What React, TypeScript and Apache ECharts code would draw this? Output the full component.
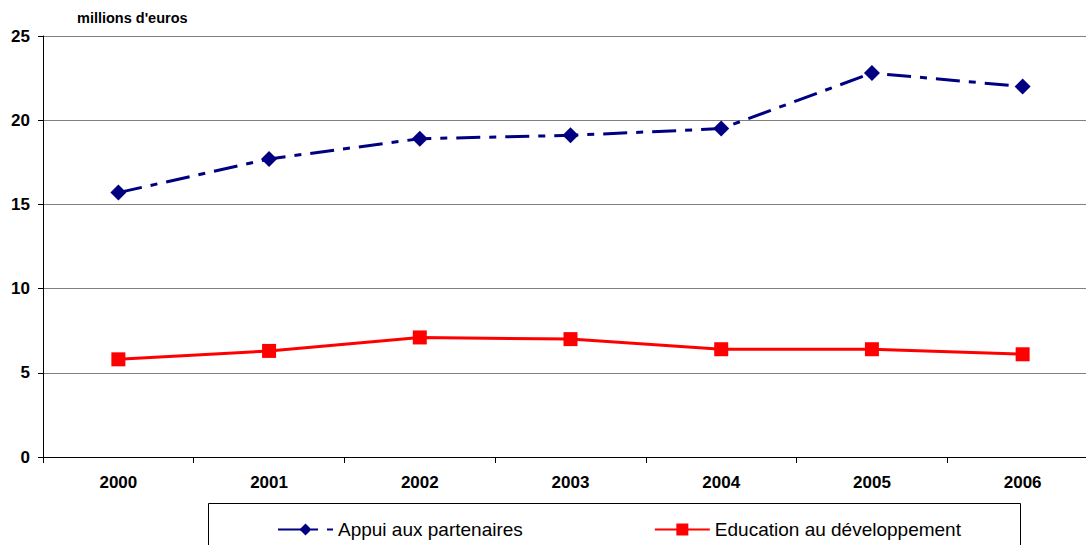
import React, { useEffect, useRef } from "react";
import * as echarts from "echarts";

const years = ["2000", "2001", "2002", "2003", "2004", "2005", "2006"];
const appui = [15.7, 17.7, 18.9, 19.1, 19.5, 22.8, 22.0];
const education = [5.8, 6.3, 7.1, 7.0, 6.4, 6.4, 6.1];
const seriesNames = ["Appui aux partenaires", "Education au développement"];
const unitLabel = "millions d'euros";

const FONT = "'Liberation Sans', Arial, sans-serif";

export default function App() {
  const ref = useRef<HTMLDivElement>(null);
  useEffect(() => {
    if (!ref.current) return;
    const chart = echarts.init(ref.current, undefined, { renderer: "svg" });
    chart.setOption({
      animation: false,
      backgroundColor: "#ffffff",
      textStyle: { fontFamily: FONT },
      grid: { left: 43, top: 36, right: 2, height: 421, containLabel: false },
      xAxis: {
        type: "category",
        data: years,
        boundaryGap: true,
        axisLine: { lineStyle: { color: "#000", width: 1 } },
        axisTick: { show: true, length: 6, lineStyle: { color: "#000" } },
        axisLabel: { color: "#000", fontWeight: "bold", fontSize: 17, fontFamily: FONT, margin: 17 },
        splitLine: { show: false },
      },
      yAxis: {
        type: "value",
        min: 0,
        max: 25,
        interval: 5,
        axisLine: { show: true, lineStyle: { color: "#000", width: 1 } },
        axisTick: { show: true, length: 5, lineStyle: { color: "#000" } },
        axisLabel: { color: "#000", fontWeight: "bold", fontSize: 17, fontFamily: FONT, margin: 13 },
        splitLine: { show: true, lineStyle: { color: "#808080", width: 1 } },
      },
      legend: {
        left: 272,
        top: 515,
        itemGap: 131,
        itemWidth: 55,
        itemHeight: 15,
        textStyle: { color: "#000", fontSize: 19, fontFamily: FONT },
        data: seriesNames,
      },
      graphic: [
        {
          type: "rect",
          shape: { x: 208.5, y: 503.5, width: 812, height: 60 },
          style: { fill: "none", stroke: "#000", lineWidth: 1 },
          z: -1,
        },
        {
          type: "text",
          left: 77,
          top: 10,
          style: { text: unitLabel, fill: "#000", font: "bold 14.5px " + FONT },
        },
      ],
      series: [
        {
          name: seriesNames[0],
          type: "line",
          data: appui,
          symbol: "diamond",
          symbolSize: 16,
          itemStyle: { color: "#000080" },
          lineStyle: { color: "#000080", width: 3, type: [24, 9, 7, 9] },
        },
        {
          name: seriesNames[1],
          type: "line",
          data: education,
          symbol: "rect",
          symbolSize: 14,
          itemStyle: { color: "#ff0000" },
          lineStyle: { color: "#ff0000", width: 3 },
        },
      ],
    });
    return () => chart.dispose();
  }, []);
  return (
    <div
      ref={ref}
      style={{ position: "fixed", left: 0, top: 0, width: 1100, height: 545, background: "#fff" }}
    />
  );
}
